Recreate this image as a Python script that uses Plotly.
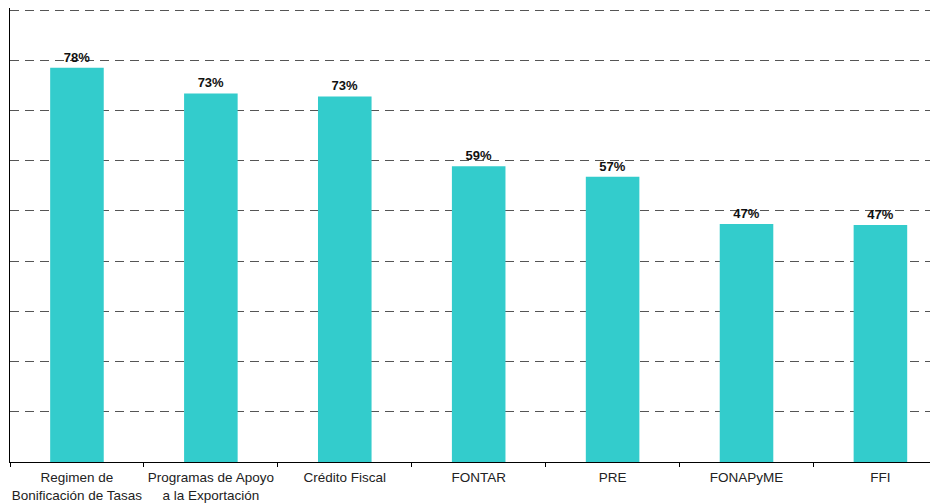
import plotly.graph_objects as go

# %% data
programas = ["Regimen de<br>Bonificación de Tasas", "Programas de Apoyo<br>a la Exportación",
             "Crédito Fiscal", "FONTAR", "PRE", "FONAPyME", "FFI"]
porcentaje = [78.5, 73.4, 72.8, 58.9, 56.8, 47.4, 47.2]
etiquetas = ["78%", "73%", "73%", "59%", "57%", "47%", "47%"]

# %% figure
fig = go.Figure(go.Bar(
    x=programas, y=porcentaje,
    marker=dict(color="#33CCCC", line=dict(width=0)),
    width=0.4,
    text=etiquetas, textposition="outside", cliponaxis=False,
    textfont=dict(family="Liberation Sans, Arial", size=13, color="#111111"),
    texttemplate="<b>%{text}</b>",
))

# page body has an 8px margin, so the figure is sized/offset to compensate
fig.update_layout(
    width=930, height=496,
    margin=dict(l=2, r=0, t=0, b=42),
    plot_bgcolor="white", paper_bgcolor="white",
    showlegend=False,
    font=dict(family="Liberation Sans, Arial", size=13, color="#222222"),
)
fig.update_xaxes(
    range=[-0.5, 6.43], automargin=False, tickangle=0,
    showline=True, linecolor="black", linewidth=1,
    ticks="outside", tickson="boundaries", ticklen=4, tickcolor="black",
    ticklabelstandoff=3,
    showgrid=False, tickfont=dict(size=13.5, color="#222222"),
)
fig.update_yaxes(
    range=[0, 90.4], dtick=10, automargin=False,
    showline=True, linecolor="black", linewidth=1,
    showticklabels=False, ticks="",
    showgrid=True, gridcolor="#555555", gridwidth=1, griddash="9px,6px",
    zeroline=False,
)

fig.write_html("out.html")
